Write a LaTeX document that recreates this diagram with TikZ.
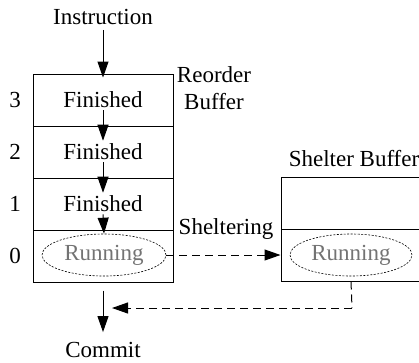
\documentclass[tikz,border=0pt]{standalone}
\usepackage{fontspec}
\setmainfont{Liberation Serif}
\newfontfamily\lserif{Liberation Serif}
\usetikzlibrary{arrows.meta,shapes.geometric}
\begin{document}
\begin{tikzpicture}[x=1pt,y=-1pt,
  every node/.style={font=\lserif\fontsize{23}{27}\selectfont, inner sep=0pt},
  row/.style={draw, line width=1pt, minimum width=140pt, minimum height=52pt},
  srow/.style={draw, line width=1pt, minimum width=142pt, minimum height=52pt},
  runell/.style={ellipse, draw, line width=0.6pt, dash pattern=on 2pt off 1.5pt, minimum width=124pt, minimum height=42pt, text=black!55},
  arr/.style={line width=1pt, -{Triangle[length=16pt,width=11pt]}},
  darr/.style={line width=1pt, dash pattern=on 8pt off 5pt, -{Triangle[length=16pt,width=11pt]}},
  dline/.style={line width=1pt, dash pattern=on 8pt off 5pt}
]
\useasboundingbox (0,0) rectangle (419,362);
% reorder buffer rows
\node[row] (r3) at (103,100) {};
\node[row] (r2) at (103,152) {};
\node[row] (r1) at (103,204) {};
\node[row] (r0) at (103,256) {};
\node (f3) at (103,100) {Finished};
\node (f2) at (103,152) {Finished};
\node (f1) at (103,204) {Finished};
\node[runell] (e0) at (104,255) {Running};
% row indices
\node (n3) at (15,100) {3};
\node (n2) at (15,152) {2};
\node (n1) at (15,204) {1};
\node (n0) at (15,256) {0};
% labels
\node[align=center] (rbl) at (214,88) {Reorder\\Buffer};
\node (instr) at (103,17) {Instruction};
\node (commit) at (103,350) {Commit};
\node (shl) at (226,229) {Sheltering};
% shelter buffer
\node[srow] (s1) at (352,203) {};
\node[srow] (s0) at (352,255) {};
\node (sbl) at (354,159) {Shelter Buffer};
\node[runell, minimum width=122pt] (e1) at (351,255) {Running};
% arrows
\draw[arr] (instr.south) ++(0,5) coordinate (ia) (ia) -- ([yshift=-4pt]r3.north);
\draw[arr] ([yshift=-2pt]f3.south) -- ([yshift=3pt]f2.north);
\draw[arr] ([yshift=-2pt]f2.south) -- ([yshift=3pt]f1.north);
\draw[arr] ([yshift=-2pt]f1.south) -- (e0.north);
\draw[darr] (e0.east) -- (s0.west);
\coordinate (rt) at (352,308);
\coordinate (rend) at (112,308);
\draw[dline] (s0.south -| e1.south) -- (rt);
\draw[darr] (rt) -- (rend);
\draw[arr] ([yshift=-8pt]r0.south) -- ([yshift=10pt]commit.north);
\end{tikzpicture}
\end{document}
